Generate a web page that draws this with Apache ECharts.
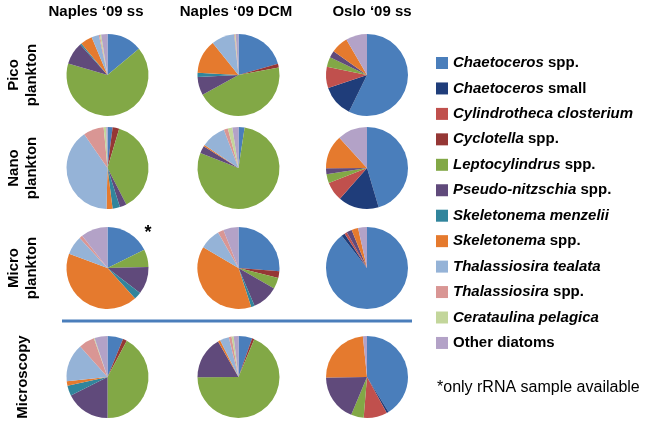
<!DOCTYPE html>
<html>
<head>
<meta charset="utf-8">
<script src="https://cdn.jsdelivr.net/npm/echarts@6/dist/echarts.min.js"></script>
<style>html,body{margin:0;padding:0;background:#fff;}#c{width:666px;height:428px;}</style>
</head>
<body>
<div id="c"></div>
<script>
// Categories (legend order) and their display form
var categories = ['Chaetoceros spp.', 'Chaetoceros small', 'Cylindrotheca closterium', 'Cyclotella spp.',
  'Leptocylindrus spp.', 'Pseudo-nitzschia spp.', 'Skeletonema menzelii', 'Skeletonema spp.',
  'Thalassiosira tealata', 'Thalassiosira spp.', 'Cerataulina pelagica', 'Other diatoms'];
var columnLabels = ["Naples \u201809 ss", "Naples \u201809 DCM", "Oslo \u201809 ss"];
var rowLabels = [['Pico', 'plankton'], ['Nano', 'plankton'], ['Micro', 'plankton'], ['Microscopy']];
var footnote = '*only rRNA sample available';

// Percentages, one array per pie (order = categories)
var naplesSsPico    = [13.9, 0, 0, 0, 65.6, 8.9, 0.6, 4.7, 2.9, 0.4, 0.5, 2.5];
var naplesDcmPico   = [20.6, 0, 0, 1.5, 44.9, 7.2, 1.7, 13.3, 9.1, 0.3, 0.3, 1.1];
var osloSsPico      = [57.3, 12.6, 8.4, 0, 3.9, 2.7, 0, 6.8, 0, 0, 0, 8.4];
var naplesSsNano    = [2.0, 0, 0, 2.6, 37.8, 2.7, 2.9, 2.4, 40.0, 8.1, 1.0, 0.5];
var naplesDcmNano   = [2.4, 0, 0, 0, 78.6, 2.9, 0, 0.6, 9.7, 1.6, 1.8, 2.4];
var osloSsNano      = [45.5, 16.1, 7.6, 0, 3.5, 2.4, 0, 13.3, 0, 0, 0, 11.8];
var naplesSsMicro   = [17.7, 0, 0, 0, 6.9, 10.8, 2.9, 42.4, 7.4, 1.3, 0, 10.6];
var naplesDcmMicro  = [26.3, 0, 0, 2.6, 4.4, 10.3, 1.4, 38.5, 8.2, 2.3, 0, 6.0];
var osloSsMicro     = [89.4, 1.4, 1.0, 0, 0, 2.1, 0, 2.6, 0, 0, 0, 3.5];
var naplesSsScope   = [6.2, 0, 0, 1.6, 42.2, 17.6, 4.0, 1.7, 15.1, 6.2, 0.3, 5.1];
var naplesDcmScope  = [5.4, 0, 0, 0.9, 68.6, 16.8, 0, 0.9, 3.6, 1.1, 0.8, 1.9];
var osloSsScope     = [41.2, 0.8, 9.3, 0, 5.0, 18.5, 0, 23.6, 0, 0, 0, 1.6];

var grid = [
  [naplesSsPico, naplesDcmPico, osloSsPico],
  [naplesSsNano, naplesDcmNano, osloSsNano],
  [naplesSsMicro, naplesDcmMicro, osloSsMicro],
  [naplesSsScope, naplesDcmScope, osloSsScope]
];

var colors = ['#4a7ebb', '#1f3d7a', '#c0504d', '#953735', '#82a846', '#604a7b', '#31859c', '#e57a2e',
  '#95b3d7', '#d99694', '#c3d69b', '#b3a2c7'];

var colX = [107.5, 238.5, 367];
var rowY = [75, 168, 268, 377];
var FONT = '"Liberation Sans", Arial, sans-serif';

var series = [];
for (var r = 0; r < 4; r++) {
  for (var c = 0; c < 3; c++) {
    var vals = grid[r][c];
    series.push({
      type: 'pie',
      center: [colX[c], rowY[r]],
      radius: 41,
      startAngle: 90,
      clockwise: true,
      label: {show: false},
      labelLine: {show: false},
      silent: true,
      avoidLabelOverlap: false,
      itemStyle: {borderWidth: 0},
      emphasis: {disabled: true},
      data: categories.map(function (n, i) { return {name: n, value: vals[i]}; })
    });
  }
}

function legendText(name) {
  var plain = {'Chaetoceros spp.': ['Chaetoceros', ' spp.'], 'Chaetoceros small': ['Chaetoceros', ' small'],
    'Cyclotella spp.': ['Cyclotella', ' spp.'], 'Leptocylindrus spp.': ['Leptocylindrus', ' spp.'],
    'Pseudo-nitzschia spp.': ['Pseudo-nitzschia', ' spp.'], 'Skeletonema spp.': ['Skeletonema', ' spp.'],
    'Thalassiosira spp.': ['Thalassiosira', ' spp.']};
  if (name === 'Other diatoms') return '{n|Other diatoms}';
  if (plain[name]) return '{i|' + plain[name][0] + '}{n|' + plain[name][1] + '}';
  return '{i|' + name + '}';
}

var graphics = [];
var headerX = [96, 236, 372];
columnLabels.forEach(function (t, i) {
  graphics.push({type: 'text', x: headerX[i], y: 12,
    style: {text: t, font: 'bold 15px ' + FONT, fill: '#000', textAlign: 'center', textVerticalAlign: 'middle'}});
});
rowLabels.forEach(function (lines, i) {
  var xs = lines.length === 2 ? [14, 32] : [23];
  lines.forEach(function (t, j) {
    graphics.push({type: 'text', x: xs[j], y: rowY[i], rotation: Math.PI / 2,
      style: {text: t, font: 'bold 15px ' + FONT, fill: '#000', textAlign: 'center', textVerticalAlign: 'middle'}});
  });
});
graphics.push({type: 'line', shape: {x1: 62, y1: 321, x2: 412, y2: 321},
  style: {stroke: '#4a7ebb', lineWidth: 3}});
graphics.push({type: 'text', x: 148, y: 233,
  style: {text: '*', font: 'bold 18px ' + FONT, fill: '#000', textAlign: 'center', textVerticalAlign: 'middle'}});
graphics.push({type: 'text', x: 437, y: 388,
  style: {text: footnote, font: '16px ' + FONT, fill: '#000', textAlign: 'left', textVerticalAlign: 'middle'}});

var chart = echarts.init(document.getElementById('c'), null, {renderer: 'canvas'});
chart.setOption({
  animation: false,
  color: colors,
  legend: {
    orient: 'vertical',
    left: 431,
    top: 50,
    icon: 'rect',
    itemWidth: 12,
    itemHeight: 12,
    itemGap: 9.45,
    selectedMode: false,
    data: categories,
    formatter: legendText,
    textStyle: {
      fontSize: 15, lineHeight: 16, color: '#000', fontFamily: FONT, fontWeight: 'bold',
      rich: {
        i: {fontSize: 15, lineHeight: 16, fontStyle: 'italic', fontWeight: 'bold', fontFamily: FONT, color: '#000'},
        n: {fontSize: 15, lineHeight: 16, fontWeight: 'bold', fontFamily: FONT, color: '#000'}
      }
    }
  },
  graphic: graphics,
  series: series
});
</script>
</body>
</html>
